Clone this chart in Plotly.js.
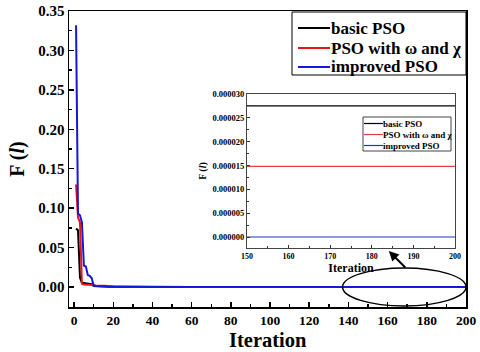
<!DOCTYPE html>
<html>
<head>
<meta charset="utf-8">
<script src="https://cdn.plot.ly/plotly-3.0.1.min.js"></script>
<style>body{margin:0;background:#fff}#chart{width:480px;height:352px}</style>
</head>
<body>
<div id="chart"></div>
<script>
// iteration points (curves flat after ~60)
const iters = [1, 2, 3, 4, 5, 6, 7, 8, 9, 10, 11, 12, 14, 16, 18, 20, 25, 30, 40, 60, 200];
const basicPSO = [0.074, 0.072, 0.012, 0.005, 0.005, 0.0045, 0.004, 0.004, 0.0035, 0.0012, 0.001, 0.0009, 0.0008, 0.0006, 0.0004, 0.0003, 0.0001, 0.00005, 0.00003, 0.0000275, 0.0000275];
const omegaChiPSO = [0.13, 0.088, 0.082, 0.004, 0.003, 0.003, 0.003, 0.003, 0.003, 0.0025, 0.002, 0.002, 0.002, 0.0015, 0.001, 0.0005, 0.0002, 0.0001, 0.00002, 0.0000148, 0.0000148];
const improvedPSO = [0.332, 0.093, 0.091, 0.082, 0.027, 0.026, 0.015, 0.014, 0.011, 0.0015, 0.0012, 0.001, 0.0009, 0.0008, 0.0006, 0.0004, 0.0002, 0.00005, 0.000001, 0.00000001, 0.00000001];

const names = ['basic PSO', 'PSO with \u03c9 and \u03c7', 'improved PSO'];
const colors = ['#000000', '#e8141c', '#1418d8'];
const insetColors = ['#000000', '#e04048', '#2030d0'];
const series = [basicPSO, omegaChiPSO, improvedPSO];

const serif = '"Liberation Serif", "Times New Roman", serif';

// plot area in pixels: left 69, right 466, top 11, bottom 307
function px(x) { return (x - 69) / 397; }
function py(y) { return (307 - y) / 296; }

var data = [];
series.forEach(function (s, i) {
    data.push({ mode: 'lines', x: iters, y: s, name: names[i], line: { color: colors[i], width: 2 }, xaxis: 'x', yaxis: 'y' });
});
series.forEach(function (s, i) {
    data.push({ mode: 'lines', x: iters, y: s, name: names[i], line: { color: insetColors[i], width: 1.2 }, xaxis: 'x2', yaxis: 'y2' });
});

var shapes = [
    { type: 'circle', xref: 'x', yref: 'y', x0: 137, x1: 200, y0: -0.024, y1: 0.024, line: { color: '#000', width: 1.5 } }
];
var annotations = [
    { xref: 'x', yref: 'y', x: 160.6, y: 0.0457, ax: 18, ay: 18, text: '', showarrow: true, arrowhead: 2, arrowsize: 1, arrowwidth: 2, arrowcolor: '#000' },
    // main x-axis title
    { xref: 'paper', yref: 'paper', x: 0.5, y: py(352), xanchor: 'center', yanchor: 'bottom', borderpad: 0,
        text: '<b>Iteration</b>', showarrow: false, font: { family: serif, size: 20.5, color: '#000' } }
];

// hand-drawn legends (main and inset)
function legendBox(box, rows, lineX, textX, size, lw, cols, bc) {
    shapes.push({ type: 'rect', xref: 'paper', yref: 'paper', x0: px(box[0]), x1: px(box[1]), y0: py(box[3]), y1: py(box[2]),
        line: { color: bc, width: 1 }, fillcolor: '#fff', layer: 'above' });
    names.forEach(function (n, i) {
        shapes.push({ type: 'line', xref: 'paper', yref: 'paper', x0: px(lineX[0]), x1: px(lineX[1]), y0: py(rows[i]), y1: py(rows[i]),
            line: { color: cols[i], width: lw }, layer: 'above' });
        annotations.push({ xref: 'paper', yref: 'paper', x: px(textX), y: py(rows[i]), xanchor: 'left', yanchor: 'middle',
            text: '<b>' + n + '</b>', showarrow: false, font: { family: serif, size: size, color: '#000' } });
    });
}
legendBox([292, 466, 12, 75], [28, 48, 67], [298, 330], 329, 17, 2, colors, '#000');
legendBox([363, 451, 117, 151], [123.5, 134.5, 145.5], [364, 383], 381, 9, 1.2, insetColors, '#444');

var layout = {
    width: 480, height: 352,
    margin: { l: 69, r: 14, t: 11, b: 45 },
    paper_bgcolor: '#fff', plot_bgcolor: '#fff',
    font: { family: serif, color: '#000' },
    showlegend: false,
    xaxis: {
        range: [-2.6, 200], dtick: 20, tick0: 0,
        ticks: 'inside', ticklen: 5, tickwidth: 1.5, tickcolor: '#000',
        minor: { dtick: 10, ticks: 'inside', ticklen: 3, tickcolor: '#000' },
        showline: true, linecolor: '#000', linewidth: 1.5, mirror: true,
        showgrid: false, zeroline: false,
        tickfont: { size: 13.5, family: serif, weight: 700 },
        automargin: false
    },
    yaxis: {
        range: [-0.0254, 0.35], dtick: 0.05, tick0: 0, tickformat: '.2f',
        ticks: 'inside', ticklen: 5, tickwidth: 1.5, tickcolor: '#000',
        minor: { dtick: 0.025, ticks: 'inside', ticklen: 3, tickcolor: '#000' },
        showline: true, linecolor: '#000', linewidth: 1.5, mirror: true,
        showgrid: false, zeroline: false,
        tickfont: { size: 15, family: serif, weight: 700 },
        title: { text: '<b>F (<i>l</i>)</b>', font: { size: 20, family: serif }, standoff: 8 },
        automargin: false
    },
    xaxis2: {
        domain: [px(247), px(455)], anchor: 'y2', range: [150, 200], dtick: 10,
        ticks: 'inside', ticklen: 3, tickcolor: '#333',
        minor: { dtick: 5, ticks: 'inside', ticklen: 2, tickcolor: '#333' },
        showline: true, linecolor: '#444', linewidth: 1, mirror: true,
        showgrid: false, zeroline: false,
        tickfont: { size: 8, family: serif, weight: 700 },
        title: { text: '<b>Iteration</b>', font: { size: 12, family: serif }, standoff: 1 }
    },
    yaxis2: {
        domain: [py(248), py(94)], anchor: 'x2', range: [-0.0000023, 0.00003], dtick: 0.000005, tick0: 0,
        tickformat: '.6f',
        ticks: 'inside', ticklen: 3, tickcolor: '#333',
        minor: { dtick: 0.0000025, ticks: 'inside', ticklen: 2, tickcolor: '#333' },
        showline: true, linecolor: '#444', linewidth: 1, mirror: true,
        showgrid: false, zeroline: false,
        tickfont: { size: 8.5, family: serif, weight: 700 },
        title: { text: '<b>F (<i>l</i>)</b>', font: { size: 10, family: serif }, standoff: 3 }
    },
    shapes: shapes,
    annotations: annotations
};

Plotly.newPlot('chart', data, layout, { staticPlot: true });
</script>
</body>
</html>
